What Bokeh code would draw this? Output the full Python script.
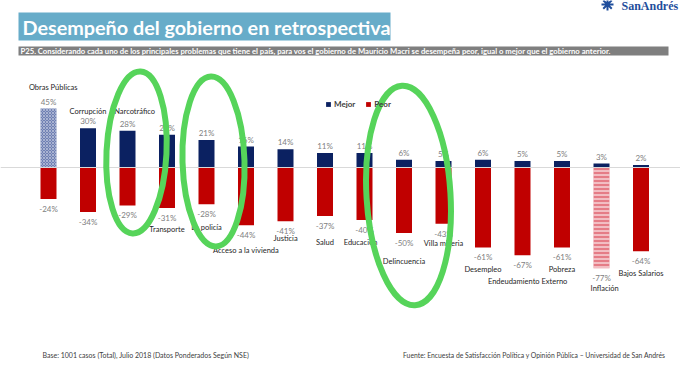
from bokeh.plotting import figure
from bokeh.models import Range1d, Label, Legend, LegendItem, ColumnDataSource, Span
from bokeh.core.properties import value
from bokeh.embed import file_html
from bokeh.resources import INLINE

# ---------------- data ----------------
categories = ["Obras Públicas", "Corrupción", "Narcotráfico", "Transporte", "La policía",
              "Acceso a la vivienda", "Justicia", "Salud", "Educación", "Delincuencia",
              "Villa miseria", "Desempleo", "Endeudamiento Externo", "Pobreza", "Inflación",
              "Bajos Salarios"]
mejor = [45, 30, 28, 25, 21, 16, 14, 11, 11, 6, 5, 6, 5, 5, 3, 2]
peor = [-24, -34, -29, -31, -28, -44, -41, -37, -40, -50, -43, -61, -67, -61, -77, -64]

# ---------------- layout (label placement, not data) ----------------
cat_label_y = [61, 43, 43, -47, -46, -63, -54, -57, -57, -72, -58, -78, -87, -78, -92, -81]
cat_label_dx = [0.12, 0.0, 0.18, 0.0, 0.0, 0.0, 0.0, 0.0, -0.1, 0.0, 0.0, 0.0, 0.13, 0.0, 0.08, 0.0]
HATCH_MEJOR = "Obras Públicas"
HATCH_PEOR = "Inflación"

W, H = 680, 367
XR = (-48 / 39.5, (680 - 48) / 39.5)
YR = (-(367 - 167) / 1.31, 167 / 1.31)

NAVY = "#0b2161"
RED = "#c00000"
FONT = "Lato"


def px_x(px):
    return XR[0] + px / W * (XR[1] - XR[0])


def px_y(py):
    return YR[1] - py / H * (YR[1] - YR[0])


n = len(categories)
xs = list(range(n))

src_m = ColumnDataSource(dict(
    x=xs, top=mejor,
    fill=["#6f80b3" if c == HATCH_MEJOR else NAVY for c in categories],
    hatch=["x" if c == HATCH_MEJOR else " " for c in categories],
    lbl=[f"{v}%" for v in mejor],
))
src_p = ColumnDataSource(dict(
    x=xs, bottom=peor,
    fill=["#e57c86" if c == HATCH_PEOR else RED for c in categories],
    hatch=["-" if c == HATCH_PEOR else " " for c in categories],
    lbl=[f"{v}%" for v in peor],
))
src_c = ColumnDataSource(dict(
    x=[i + d for i, d in zip(xs, cat_label_dx)], y=cat_label_y, text=categories,
))

p = figure(width=W, height=H, x_range=Range1d(*XR), y_range=Range1d(*YR),
           output_backend="svg", toolbar_location=None, min_border=0,
           x_axis_type=None, y_axis_type=None)
p.grid.visible = False
p.outline_line_color = None
p.background_fill_color = "white"

# header
p.quad(left=px_x(18), right=px_x(390), top=px_y(12), bottom=px_y(40),
       fill_color="#67acc9", line_color=None)
p.quad(left=px_x(18), right=px_x(668), top=px_y(46), bottom=px_y(55),
       fill_color="#7f7f7f", line_color=None)
p.add_layout(Label(x=px_x(22), y=px_y(26.5), text="Desempeño del gobierno en retrospectiva",
                   text_font=FONT, text_font_size="19.8px", text_font_style="bold",
                   text_color="white", text_baseline="middle"))
p.add_layout(Label(x=px_x(20), y=px_y(50.5),
                   text="P25. Considerando cada uno de los principales problemas que tiene el país, para vos el gobierno de Mauricio Macri se desempeña peor, igual o mejor que el gobierno anterior.",
                   text_font=FONT, text_font_size="7.7px", text_font_style="bold",
                   text_color="white", text_baseline="middle"))
p.add_layout(Label(x=px_x(621), y=px_y(5), text="SanAndrés", text_font="Liberation Serif",
                   text_font_size="12px", text_font_style="bold", text_color="#1f4e9c",
                   text_baseline="middle"))
p.scatter(x=[px_x(607)], y=[px_y(4)], marker="asterisk", size=12, line_color="#1f4e9c", line_width=2)

# zero line
p.add_layout(Span(location=0, dimension="width", line_color="#d9d9d9", line_width=1))

# bars
rm = p.vbar(x="x", top="top", bottom=0, width=0.405, source=src_m, fill_color="fill",
            line_color=None, hatch_pattern="hatch", hatch_color="white", hatch_scale=3,
            hatch_weight=0.5, hatch_alpha=0.8)
rp = p.vbar(x="x", top=0, bottom="bottom", width=0.405, source=src_p, fill_color="fill",
            line_color=None, hatch_pattern="hatch", hatch_color="white", hatch_scale=4,
            hatch_weight=1)

# value labels
p.text(x="x", y="top", text="lbl", source=src_m, y_offset=-7, text_align="center",
       text_baseline="middle", text_font=value(FONT), text_font_size="8px", text_color="#7f7f7f")
p.text(x="x", y="bottom", text="lbl", source=src_p, y_offset=10, text_align="center",
       text_baseline="middle", text_font=value(FONT), text_font_size="8px", text_color="#7f7f7f")
# category labels
p.text(x="x", y="y", text="text", source=src_c, text_align="center", text_baseline="middle",
       text_font=value(FONT), text_font_size="7.5px", text_color="#262626")

legend = Legend(items=[LegendItem(label="Mejor", renderers=[rm], index=1),
                       LegendItem(label="Peor", renderers=[rp], index=0)],
                orientation="horizontal", location=(325, 258), glyph_width=6, glyph_height=6,
                label_text_font=FONT, label_text_font_size="8px", label_text_font_style="bold",
                label_text_color="#404040", label_standoff=3, spacing=10, padding=0, margin=0,
                border_line_color=None, background_fill_alpha=0, label_height=8)
p.add_layout(legend, "center")

# footer
p.add_layout(Label(x=px_x(42), y=px_y(354), text="Base: 1001 casos (Total),  Julio 2018 (Datos Ponderados Según NSE)",
                   text_font=FONT, text_font_size="7px", text_color="#404040",
                   text_baseline="middle"))
p.add_layout(Label(x=px_x(665), y=px_y(354),
                   text="Fuente: Encuesta de Satisfacción Política y Opinión Pública – Universidad de San Andrés",
                   text_font=FONT, text_font_size="6.8px", text_color="#404040",
                   text_baseline="middle", text_align="right"))

# green hand-drawn marks
p.ellipse(x=[px_x(136), px_x(213), px_x(408)], y=[px_y(152), px_y(161), px_y(195)],
          width=[60, 62, 84], height=[162, 170, 220], angle=[-0.05, 0.03, 0.06],
          width_units="screen", height_units="screen",
          fill_color=None, line_color="#56d45a", line_width=6, level="overlay")

open("out.html", "w").write(file_html(p, INLINE))
